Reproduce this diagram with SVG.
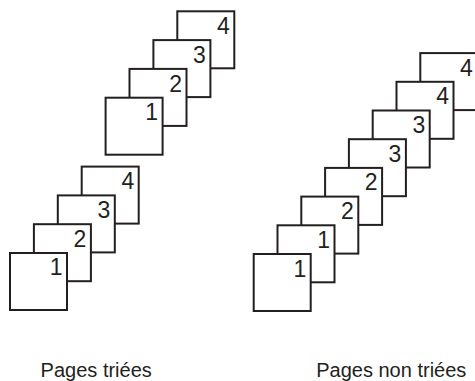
<svg xmlns="http://www.w3.org/2000/svg" width="475" height="381" viewBox="0 0 475 381">
<style>
  .pg rect { fill: #fff; stroke: #231f20; stroke-width: 2; }
  .pg text { font-family: "Liberation Sans", Arial, sans-serif; font-size: 23px; fill: #231f20; text-anchor: end; }
  .lbl { font-family: "Liberation Sans", Arial, sans-serif; font-size: 20px; fill: #231f20; text-anchor: middle; }
</style>
<rect width="475" height="381" fill="#fff"/>
<g id="sorted">
  <g id="s-top-4" class="pg"><rect x="177.3" y="11.3" width="57" height="57"/><text x="229.8" y="34">4</text></g>
  <g id="s-top-3" class="pg"><rect x="153.4" y="40.1" width="57" height="57"/><text x="205.9" y="62.8">3</text></g>
  <g id="s-top-2" class="pg"><rect x="129.5" y="68.9" width="57" height="57"/><text x="182" y="91.6">2</text></g>
  <g id="s-top-1" class="pg"><rect x="105.6" y="97.7" width="57" height="57"/><text x="158.1" y="120.4">1</text></g>
  <g id="s-bot-4" class="pg"><rect x="81.7" y="166.6" width="57" height="57"/><text x="134.2" y="189.2">4</text></g>
  <g id="s-bot-3" class="pg"><rect x="57.8" y="195.4" width="57" height="57"/><text x="110.3" y="218">3</text></g>
  <g id="s-bot-2" class="pg"><rect x="33.9" y="224.2" width="57" height="57"/><text x="86.4" y="246.8">2</text></g>
  <g id="s-bot-1" class="pg"><rect x="10" y="253" width="57" height="57"/><text x="62.5" y="275.3">1</text></g>
</g>
<g id="unsorted">
  <g id="u-8" class="pg"><rect x="420.3" y="53.1" width="57" height="57"/><text x="472.8" y="75.6">4</text></g>
  <g id="u-7" class="pg"><rect x="396.5" y="81.8" width="57" height="57"/><text x="449" y="104.3">4</text></g>
  <g id="u-6" class="pg"><rect x="372.7" y="110.5" width="57" height="57"/><text x="425.2" y="133">3</text></g>
  <g id="u-5" class="pg"><rect x="348.9" y="139.2" width="57" height="57"/><text x="401.4" y="161.7">3</text></g>
  <g id="u-4" class="pg"><rect x="325.1" y="167.9" width="57" height="57"/><text x="377.6" y="190.4">2</text></g>
  <g id="u-3" class="pg"><rect x="301.3" y="196.6" width="57" height="57"/><text x="353.8" y="219.1">2</text></g>
  <g id="u-2" class="pg"><rect x="277.5" y="225.3" width="57" height="57"/><text x="330" y="247.8">1</text></g>
  <g id="u-1" class="pg"><rect x="253.7" y="254" width="57" height="57"/><text x="306.2" y="276.5">1</text></g>
</g>
<g id="labels">
  <text class="lbl" x="96.2" y="377">Pages triées</text>
  <text class="lbl" x="391.3" y="377">Pages non triées</text>
</g>
</svg>
